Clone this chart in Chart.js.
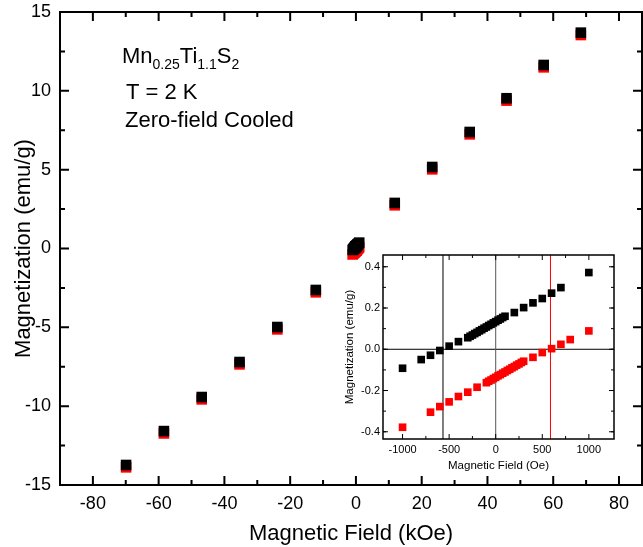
<!DOCTYPE html>
<html><head><meta charset="utf-8">
<script src="https://cdn.jsdelivr.net/npm/chart.js@4.4.1/dist/chart.umd.min.js"></script>
<style>
html,body{margin:0;padding:0;background:#fff;}
#wrap{position:relative;width:643px;height:547px;overflow:hidden;background:#fff;}
#main{position:absolute;left:0;top:0;}
#inset{position:absolute;left:340px;top:248px;}
</style></head><body>
<div id="wrap"><canvas id="main" width="643" height="547"></canvas><canvas id="inset" width="285" height="225"></canvas></div>
<script>
const FONT = "'Liberation Sans', Arial, sans-serif";

// ---- Main panel data (field in kOe, magnetization in emu/g) ----
const fieldHighKOe = [-69.9, -58.4, -46.9, -35.4, -23.9, -12.2, 11.8, 23.2, 34.6, 45.8, 57.1, 68.4];
const magBlackHigh = [-13.73, -11.58, -9.42, -7.20, -4.98, -2.63, 2.89, 5.17, 7.39, 9.53, 11.64, 13.69];
const magRedHigh   = [-13.88, -11.73, -9.57, -7.35, -5.13, -2.78, 2.74, 5.02, 7.24, 9.38, 11.49, 13.54];

// ---- Inset data (field in Oe, magnetization in emu/g) ----
const fieldBlackOe = [-1000, -800, -700, -600, -500, -400,
  -300, -275, -250, -225, -200, -175, -150, -125, -100, -75, -50, -25, 0, 25, 50, 75, 100,
  200, 300, 400, 500, 600, 700, 1000];
const magBlackLow = [-0.092, -0.050, -0.029, -0.006, 0.015, 0.037,
  0.056, 0.063, 0.069, 0.076, 0.082, 0.089, 0.095, 0.102, 0.108, 0.115, 0.121, 0.128, 0.134, 0.141, 0.147, 0.154, 0.160,
  0.178, 0.202, 0.225, 0.246, 0.272, 0.299, 0.372];
const fieldRedOe = [-1000, -700, -600, -500, -400, -300, -200,
  -100, -75, -50, -25, 0, 25, 50, 75, 100, 125, 150, 175, 200, 225, 250, 275, 300,
  400, 500, 600, 700, 800, 1000];
const magRedLow = [-0.378, -0.305, -0.278, -0.255, -0.229, -0.208, -0.184,
  -0.162, -0.155, -0.149, -0.142, -0.136, -0.129, -0.123, -0.116, -0.110, -0.103, -0.097, -0.090, -0.084, -0.077, -0.071, -0.064, -0.058,
  -0.039, -0.016, 0.003, 0.024, 0.047, 0.089];
const coerciveFieldsOe = [-566, 588];

// ---- Axes ----
const mainXRange = [-90, 87];
const mainYRange = [-15, 15];
const mainXTicks = [-80, -60, -40, -20, 0, 20, 40, 60, 80];
const mainXMinor = [-70, -50, -30, -10, 10, 30, 50, 70];
const mainYTicks = [-15, -10, -5, 0, 5, 10, 15];
const mainYMinor = [-12.5, -7.5, -2.5, 2.5, 7.5, 12.5];
const insetXRange = [-1210, 1270];
const insetYRange = [-0.435, 0.457];
const insetXTicks = [-1000, -500, 0, 500, 1000];
const insetXMinor = [-750, -250, 250, 750];
const insetYTicks = [-0.4, -0.2, 0, 0.2, 0.4];
const insetYMinor = [-0.3, -0.1, 0.1, 0.3];

// ---- Text ----
const sampleName = [["Mn", 0], ["0.25", 1], ["Ti", 0], ["1.1", 1], ["S", 0], ["2", 1]];
const annoLines = ["T = 2 K", "Zero-field Cooled"];
const mainXTitle = "Magnetic Field (kOe)";
const mainYTitle = "Magnetization (emu/g)";
const insetXTitle = "Magnetic Field (Oe)";
const insetYTitle = "Magnetization (emu/g)";

const pts = (xs, ys, k) => xs.map((v, i) => ({x: v * k, y: ys[i]}));

function framePlugin(o) {
  return {
    id: 'frame',
    afterDatasetsDraw(chart) {
      const {ctx, chartArea: a, scales: {x, y}} = chart;
      ctx.save();
      ctx.strokeStyle = '#000';
      ctx.lineCap = 'butt';
      ctx.lineWidth = o.tw;
      ctx.beginPath();
      const tx = (vals, len) => vals.forEach(v => {
        const p = x.getPixelForValue(v);
        ctx.moveTo(p, a.bottom); ctx.lineTo(p, a.bottom - len);
        ctx.moveTo(p, a.top); ctx.lineTo(p, a.top + len);
      });
      const ty = (vals, len) => vals.forEach(v => {
        const p = y.getPixelForValue(v);
        ctx.moveTo(a.left, p); ctx.lineTo(a.left + len, p);
        ctx.moveTo(a.right, p); ctx.lineTo(a.right - len, p);
      });
      tx(o.xMaj, o.maj); tx(o.xMin, o.min);
      ty(o.yMaj, o.maj); ty(o.yMin, o.min);
      ctx.stroke();
      ctx.lineWidth = o.lw;
      ctx.strokeRect(a.left, a.top, a.right - a.left, a.bottom - a.top);
      ctx.restore();
    }
  };
}

const annoPlugin = {
  id: 'anno',
  afterDraw(chart) {
    const ctx = chart.ctx;
    ctx.save();
    ctx.fillStyle = '#000';
    ctx.textBaseline = 'alphabetic';
    let x = 122;
    sampleName.forEach(([t, sub]) => {
      ctx.font = (sub ? '14px ' : '22px ') + FONT;
      ctx.fillText(t, x, sub ? 69 : 63);
      x += ctx.measureText(t).width;
    });
    ctx.font = '22px ' + FONT;
    ctx.fillText(annoLines[0], 126, 99);
    ctx.fillText(annoLines[1], 125, 127);
    ctx.restore();
  }
};

const setTicks = vals => scale => { scale.ticks = vals.map(v => ({value: v})); };
const fitX = h => s => { s.height = h; s.paddingLeft = 0; s.paddingRight = 0; };
const fitY = w => s => { s.width = w; s.paddingTop = 0; s.paddingBottom = 0; };

new Chart(document.getElementById('main'), {
  type: 'scatter',
  data: {
    datasets: [
      {label: 'black', data: pts(fieldHighKOe, magBlackHigh, 1).concat(pts(fieldBlackOe, magBlackLow, 0.001)),
       backgroundColor: '#000', pointStyle: 'rect', pointRadius: 7.5, pointBorderWidth: 0},
      {label: 'red', data: pts(fieldHighKOe, magRedHigh, 1).concat(pts(fieldRedOe, magRedLow, 0.001)),
       backgroundColor: '#ff0000', pointStyle: 'rect', pointRadius: 7.5, pointBorderWidth: 0}
    ]
  },
  options: {
    responsive: false, animation: false, devicePixelRatio: 1,
    layout: {autoPadding: false, padding: {top: 12, right: 1, left: 0, bottom: 0}},
    plugins: {legend: {display: false}, tooltip: {enabled: false}},
    scales: {
      x: {
        type: 'linear', min: mainXRange[0], max: mainXRange[1],
        afterBuildTicks: setTicks(mainXTicks),
        afterFit: fitX(62),
        grid: {display: false, drawTicks: false}, border: {display: false},
        ticks: {color: '#000', font: {family: FONT, size: 18}, padding: 8, maxRotation: 0, autoSkip: false,
                callback: v => String(v)},
        title: {display: true, text: mainXTitle, color: '#000', font: {family: FONT, size: 22}, padding: {top: 2, bottom: 0}}
      },
      y: {
        type: 'linear', min: mainYRange[0], max: mainYRange[1],
        afterBuildTicks: setTicks(mainYTicks),
        afterFit: fitY(60),
        grid: {display: false, drawTicks: false}, border: {display: false},
        ticks: {color: '#000', font: {family: FONT, size: 18}, padding: 9, autoSkip: false,
                callback: v => String(v)},
        title: {display: true, text: mainYTitle, color: '#000', font: {family: FONT, size: 22}, padding: {top: 11, bottom: 0}}
      }
    }
  },
  plugins: [framePlugin({lw: 2, tw: 2, maj: 9, min: 5, xMaj: mainXTicks, xMin: mainXMinor, yMaj: mainYTicks, yMin: mainYMinor}), annoPlugin]
});

const vline = (xv, color) => ({
  type: 'line', data: [{x: xv, y: insetYRange[0]}, {x: xv, y: insetYRange[1]}],
  borderColor: color, borderWidth: 1, pointRadius: 0, showLine: true, fill: false
});

new Chart(document.getElementById('inset'), {
  type: 'scatter',
  data: {
    datasets: [
      {label: 'black', data: pts(fieldBlackOe, magBlackLow, 1),
       backgroundColor: '#000', pointStyle: 'rect', pointRadius: 5.4, pointBorderWidth: 0},
      {label: 'red', data: pts(fieldRedOe, magRedLow, 1),
       backgroundColor: '#ff0000', pointStyle: 'rect', pointRadius: 5.4, pointBorderWidth: 0},
      vline(coerciveFieldsOe[0], '#000'),
      vline(0, '#555'),
      vline(coerciveFieldsOe[1], '#ff0000'),
      {type: 'line', data: [{x: insetXRange[0], y: 0}, {x: insetXRange[1], y: 0}],
       borderColor: '#000', borderWidth: 1, pointRadius: 0, showLine: true, fill: false}
    ]
  },
  options: {
    responsive: false, animation: false, devicePixelRatio: 1,
    layout: {autoPadding: false, padding: {top: 7, right: 11, left: 0, bottom: 0}},
    plugins: {legend: {display: false}, tooltip: {enabled: false}},
    scales: {
      x: {
        type: 'linear', min: insetXRange[0], max: insetXRange[1],
        afterBuildTicks: setTicks(insetXTicks),
        afterFit: fitX(34),
        grid: {display: false, drawTicks: false}, border: {display: false},
        ticks: {color: '#000', font: {family: FONT, size: 11}, padding: 4, maxRotation: 0, autoSkip: false,
                callback: v => String(v)},
        title: {display: true, text: insetXTitle, color: '#000', font: {family: FONT, size: 11.5}, padding: {top: 4, bottom: 0}}
      },
      y: {
        type: 'linear', min: insetYRange[0], max: insetYRange[1],
        afterBuildTicks: setTicks(insetYTicks),
        afterFit: fitY(43),
        grid: {display: false, drawTicks: false}, border: {display: false},
        ticks: {color: '#000', font: {family: FONT, size: 11}, padding: 3, autoSkip: false,
                callback: v => Number(v).toFixed(1)},
        title: {display: true, text: insetYTitle, color: '#000', font: {family: FONT, size: 11.5}, padding: {top: 3, bottom: 0}}
      }
    }
  },
  plugins: [framePlugin({lw: 1.5, tw: 1, maj: 5, min: 3, xMaj: insetXTicks, xMin: insetXMinor, yMaj: insetYTicks, yMin: insetYMinor.concat(insetYTicks)})]
});
</script>
</body></html>
